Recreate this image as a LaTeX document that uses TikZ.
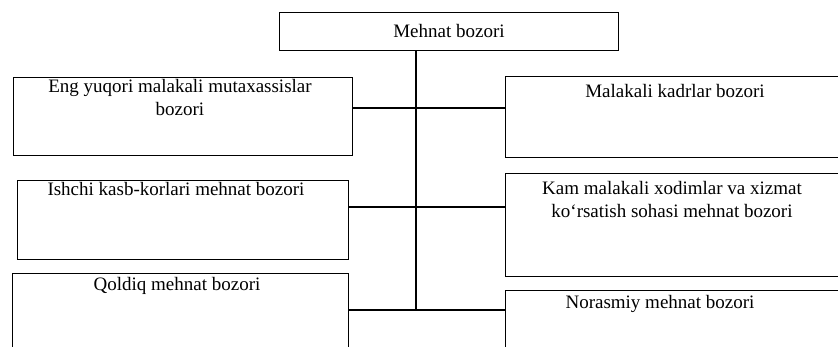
\documentclass[tikz,border=0pt]{standalone}
\usepackage{fontspec}
\setmainfont{Liberation Serif}
\begin{document}
\begin{tikzpicture}[x=1pt,y=1pt,
  box/.style={draw, line width=1.2pt, inner sep=0pt, anchor=north west},
  lbl/.style={anchor=north, inner sep=0pt, align=center,
    font=\fontsize{19}{23}\selectfont},
  conn/.style={line width=1.2pt}]
\clip (0,0) rectangle (838,-346);
\fill[white] (0,0) rectangle (838,-346);
% boxes
\node[box, minimum width=339, minimum height=38] (top) at (279,-12) {};
\node[box, minimum width=339, minimum height=78] (L1) at (13,-77) {};
\node[box, minimum width=331, minimum height=79] (L2) at (17,-180) {};
\node[box, minimum width=336, minimum height=79] (L3) at (12,-273) {};
\node[box, minimum width=345, minimum height=81] (R1) at (505,-76) {};
\node[box, minimum width=345, minimum height=103] (R2) at (505,-173) {};
\node[box, minimum width=345, minimum height=62] (R3) at (505,-290) {};
% texts
\node[lbl] (tTop) at (449,-24) {Mehnat bozori};
\node[lbl] (tL1) at (180,-79) {Eng yuqori malakali mutaxassislar\\bozori};
\node[lbl] (tL2) at (176,-182) {Ishchi kasb-korlari mehnat bozori};
\node[lbl] (tL3) at (177,-277) {Qoldiq mehnat bozori};
\node[lbl] (tR1) at (675,-84) {Malakali kadrlar bozori};
\node[lbl] (tR2) at (672,-181) {Kam malakali xodimlar va xizmat\\ko‘rsatish sohasi mehnat bozori};
\node[lbl] (tR3) at (660,-295) {Norasmiy mehnat bozori};
% connectors
\coordinate (j1) at (416,-108);
\coordinate (j2) at (416,-207);
\coordinate (j3) at (416,-310);
\draw[conn] (top.south -| j1) -- (j3);
\draw[conn] (L1.east |- j1) -- (R1.west |- j1);
\draw[conn] (L2.east |- j2) -- (R2.west |- j2);
\draw[conn] (L3.east |- j3) -- (R3.west |- j3);
\end{tikzpicture}
\end{document}
